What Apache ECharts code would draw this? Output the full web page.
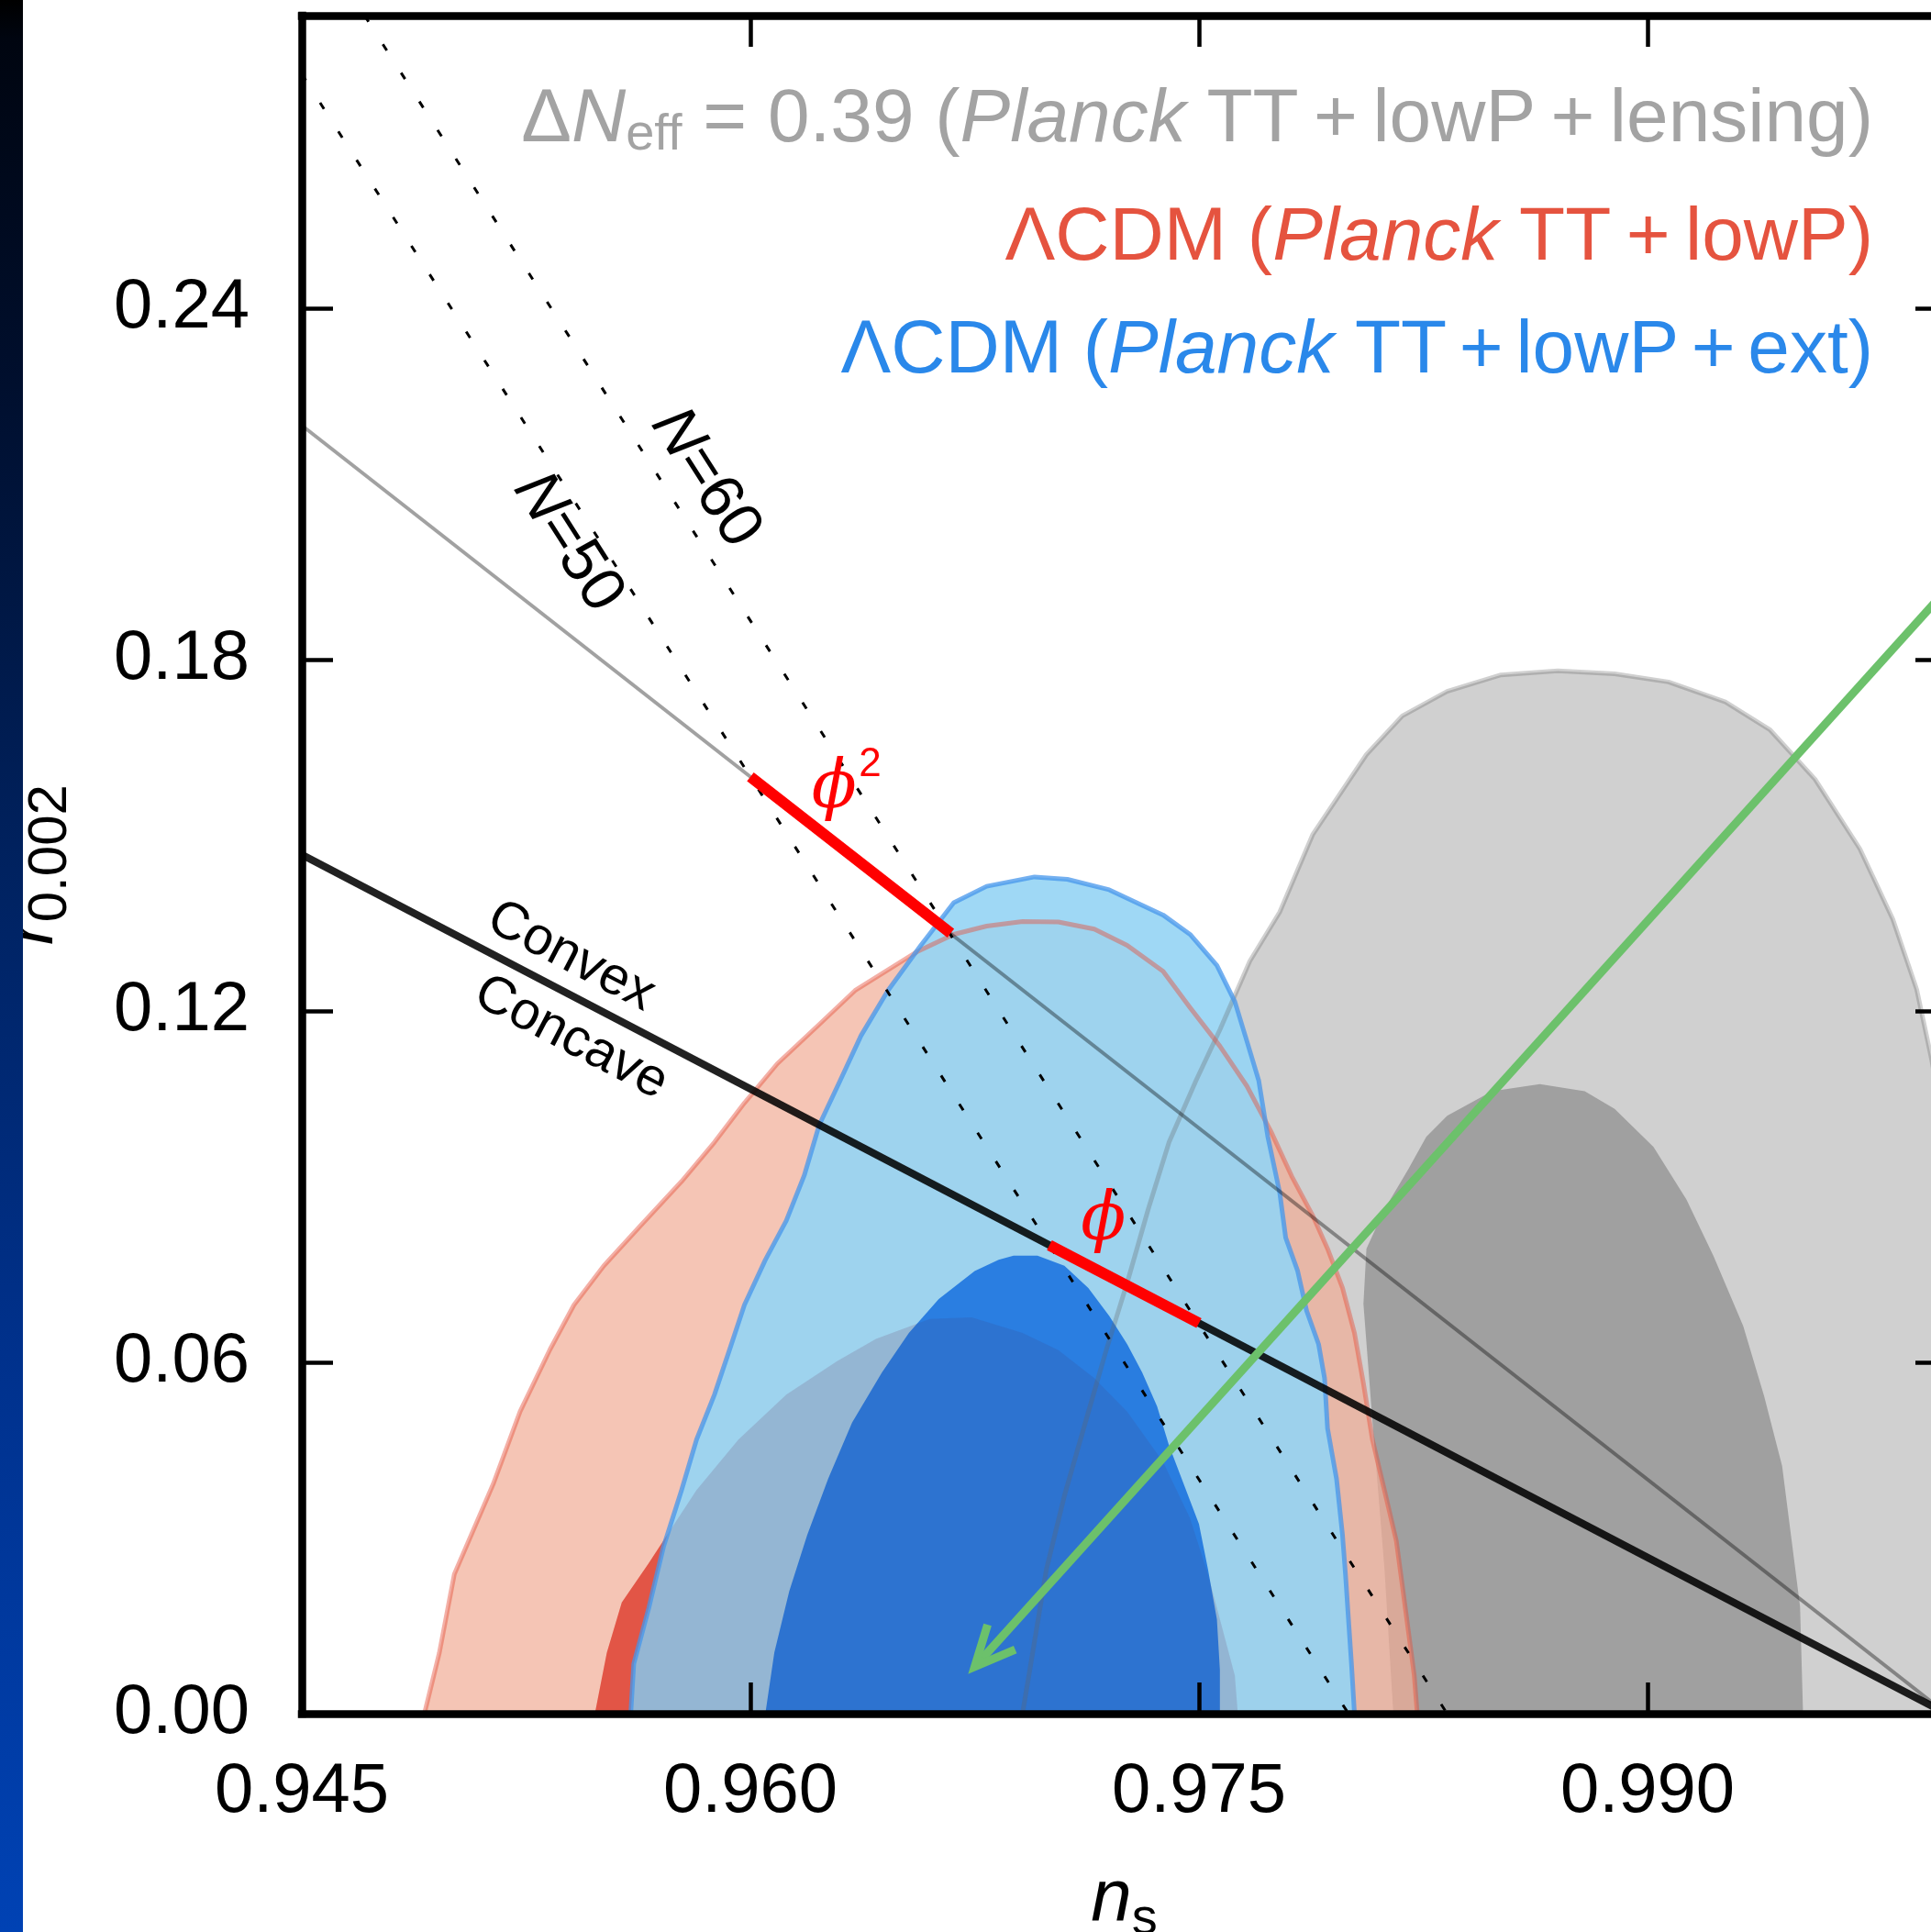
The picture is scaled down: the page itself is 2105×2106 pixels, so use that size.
<!DOCTYPE html>
<html><head><meta charset="utf-8">
<script src="https://cdn.jsdelivr.net/npm/echarts@6/dist/echarts.min.js"></script>
<style>html,body{margin:0;padding:0;background:#fff;} #c{width:2105px;height:2106px;}</style>
</head><body><div id="c"></div>
<script>
// ---------------- data ----------------
const xTicks = [0.945, 0.960, 0.975, 0.990];
const yTicks = [0.00, 0.06, 0.12, 0.18, 0.24];

// Delta N_eff = 0.39 (Planck TT+lowP+lensing) contours  [n_s, r]
const grayOuter = [[0.9691,0],[0.9695,0.0123],[0.9699,0.0247],[0.9705,0.0372],[0.9712,0.0497],[0.9719,0.0621],[0.9726,0.0736],[0.9733,0.0861],[0.9740,0.0976],[0.9749,0.1081],[0.9757,0.1168],[0.9767,0.1285],[0.9777,0.1369],[0.9788,0.1501],[0.9806,0.1638],[0.9818,0.1704],[0.9833,0.1746],[0.9851,0.1774],[0.9870,0.1781],[0.9889,0.1776],[0.9907,0.1762],[0.9926,0.1728],[0.9941,0.1680],[0.9956,0.1596],[0.9971,0.1477],[0.9982,0.1357],[0.9990,0.1237],[0.9995,0.1117],[1.0001,0.0950],[1.0008,0.0600],[1.0012,0.0300],[1.0013,0]];
const grayInner = [[0.9815,0],[0.9812,0.0250],[0.9808,0.0500],[0.9805,0.0700],[0.9806,0.0794],[0.9812,0.0861],[0.9820,0.0930],[0.9826,0.0985],[0.9833,0.1021],[0.9848,0.1063],[0.9864,0.1075],[0.9879,0.1063],[0.9889,0.1033],[0.9902,0.0968],[0.9913,0.0878],[0.9922,0.0782],[0.9932,0.0662],[0.9939,0.0542],[0.9945,0.0423],[0.9948,0.0303],[0.9951,0.0183],[0.9952,0]];
// LCDM Planck TT+lowP
const redOuter = [[0.9491,0],[0.9496,0.0104],[0.9501,0.0238],[0.9514,0.0392],[0.9523,0.0516],[0.9533,0.0622],[0.9541,0.0698],[0.9551,0.0765],[0.9563,0.0832],[0.9577,0.0909],[0.9588,0.0976],[0.9598,0.1043],[0.9609,0.1110],[0.9623,0.1177],[0.9635,0.1235],[0.9656,0.1302],[0.9668,0.1331],[0.9679,0.1345],[0.9691,0.1353],[0.9703,0.1352],[0.9715,0.1340],[0.9726,0.1312],[0.9738,0.1268],[0.9747,0.1206],[0.9757,0.1140],[0.9766,0.1072],[0.9774,0.0995],[0.9781,0.0918],[0.9788,0.0851],[0.9793,0.0794],[0.9798,0.0727],[0.9802,0.0650],[0.9805,0.0564],[0.9808,0.0468],[0.9812,0.0382],[0.9816,0.0295],[0.9818,0.0219],[0.9820,0.0142],[0.9822,0.0065],[0.9823,0]];
const redInner = [[0.9548,0],[0.9552,0.0104],[0.9557,0.0190],[0.9566,0.0257],[0.9571,0.0296],[0.9582,0.0382],[0.9596,0.0468],[0.9612,0.0545],[0.9629,0.0602],[0.9642,0.0640],[0.9660,0.0674],[0.9674,0.0677],[0.9679,0.0669],[0.9691,0.0650],[0.9703,0.0621],[0.9715,0.0573],[0.9726,0.0516],[0.9738,0.0430],[0.9747,0.0334],[0.9753,0.0238],[0.9758,0.0142],[0.9762,0.0065],[0.9763,0]];
// LCDM Planck TT+lowP+ext
const blueOuter = [[0.9560,0],[0.9561,0.0085],[0.9566,0.0180],[0.9571,0.0286],[0.9577,0.0382],[0.9582,0.0468],[0.9588,0.0545],[0.9593,0.0621],[0.9598,0.0698],[0.9605,0.0775],[0.9612,0.0842],[0.9618,0.0919],[0.9623,0.1005],[0.9630,0.1081],[0.9637,0.1158],[0.9646,0.1235],[0.9657,0.1312],[0.9668,0.1385],[0.9679,0.1413],[0.9695,0.1429],[0.9706,0.1425],[0.9720,0.1407],[0.9738,0.1364],[0.9747,0.1331],[0.9756,0.1278],[0.9762,0.1216],[0.9766,0.1149],[0.9770,0.1081],[0.9773,0.0986],[0.9777,0.0890],[0.9779,0.0813],[0.9783,0.0756],[0.9786,0.0688],[0.9790,0.0631],[0.9792,0.0573],[0.9793,0.0487],[0.9796,0.0401],[0.9798,0.0305],[0.9799,0.0238],[0.9800,0.0161],[0.9801,0.0085],[0.9802,0]];
const blueInner = [[0.9605,0],[0.9608,0.0104],[0.9613,0.0209],[0.9619,0.0305],[0.9626,0.0401],[0.9634,0.0497],[0.9644,0.0583],[0.9653,0.0650],[0.9663,0.0708],[0.9675,0.0756],[0.9683,0.0775],[0.9688,0.0782],[0.9696,0.0782],[0.9705,0.0765],[0.9713,0.0727],[0.9720,0.0679],[0.9726,0.0631],[0.9731,0.0583],[0.9736,0.0525],[0.9740,0.0458],[0.9745,0.0391],[0.9750,0.0324],[0.9753,0.0247],[0.9756,0.0161],[0.9757,0.0075],[0.9757,0]];

// model lines
const phi2Line = [[0.945, 0.2200], [1.000, 0.0000]];
const phi2Seg  = [[0.9600, 0.1600], [0.9667, 0.1333]];
const phiLine  = [[0.945, 0.1467], [1.000, 0.0000]];
const phiSeg   = [[0.9700, 0.0800], [0.9750, 0.0667]];
const n50Line  = [[0.945, 0.2800], [0.9800, 0.0000]];
const n60Line  = [[0.9471, 0.2900], [0.9833, 0.0000]];
const arrowLine = [[1.0000, 0.1920], [0.9675, 0.0080]];   // start, tip

// annotation anchors
const labelN50 = [0.9539, 0.2000];
const labelN60 = [0.9585, 0.2110];
const labelConvex = [0.9540, 0.1293];
const labelConcave = [0.9540, 0.1154];
const labelPhi2 = [0.9628, 0.1577];
const labelPhi2Sup = [0.9640, 0.1620];
const labelPhi = [0.9718, 0.0839];

// ---------------- chart ----------------
const chart = echarts.init(document.getElementById('c'), null, {renderer: 'canvas', width: 2105, height: 2106});
const FONT = 'Liberation Sans';

function polySeries(pts, fill, z) {
  return { type: 'custom', z, silent: true, clip: true, data: [pts[0]],
    renderItem: (p, api) => ({ type: 'polygon', shape: { points: pts.map(q => api.coord(q)) },
      style: { fill: fill, stroke: null } }) };
}
function outlineSeries(pts, stroke, width, z) {
  return { type: 'custom', z, silent: true, clip: true, data: [pts[0]],
    renderItem: (p, api) => ({ type: 'polyline', shape: { points: pts.map(q => api.coord(q)) },
      style: { fill: null, stroke: stroke, lineWidth: width, lineJoin: 'round' } }) };
}
function lineSeries(pts, color, width, type, z) {
  return { type: 'line', data: pts, symbol: 'none', silent: true, z, clip: true,
    lineStyle: { color, width, type: type || 'solid', cap: 'butt' } };
}
function angleOf(api, line) {
  const a = api.coord(line[0]), b = api.coord(line[1]);
  return -Math.atan2(b[1] - a[1], b[0] - a[0]);
}

const textSeries = {
  type: 'custom', z: 30, silent: true, clip: false, data: [labelN50],
  renderItem: (p, api) => {
    const t = (pos, text, rot, style) => {
      const c = api.coord(pos);
      return { type: 'text', x: c[0], y: c[1], rotation: rot,
        style: Object.assign({ text, align: 'center', verticalAlign: 'middle' }, style) };
    };
    const angPhi = angleOf(api, phiLine);
    const richN = { i: { fontStyle: 'italic', fontSize: 68, fontFamily: FONT, fill: '#000' },
                    a: { fontSize: 68, fontFamily: FONT, fill: '#000' } };
    return { type: 'group', children: [
      t(labelN50, '{i|N}{a|=50}', angleOf(api, n50Line), { rich: richN }),
      t(labelN60, '{i|N}{a|=60}', angleOf(api, n60Line), { rich: richN }),
      t(labelConvex, 'Convex', angPhi, { fontSize: 58, fontFamily: FONT, fill: '#000' }),
      t(labelConcave, 'Concave', angPhi, { fontSize: 58, fontFamily: FONT, fill: '#000' }),
      t(labelPhi2, '\u03D5', 0, { fontSize: 72, fontFamily: 'DejaVu Serif', fontStyle: 'italic', fill: '#ff0000' }),
      t(labelPhi2Sup, '2', 0, { fontSize: 44, fontFamily: FONT, fill: '#ff0000' }),
      t(labelPhi, '\u03D5', 0, { fontSize: 72, fontFamily: 'DejaVu Serif', fontStyle: 'italic', fill: '#ff0000' })
    ]};
  }
};

const arrowSeries = {
  type: 'custom', z: 25, silent: true, clip: true, data: [arrowLine[1]],
  renderItem: (p, api) => {
    const s = api.coord(arrowLine[0]), e = api.coord(arrowLine[1]);
    const ang = Math.atan2(s[1] - e[1], s[0] - e[0]);
    const L = 48, h = 25 * Math.PI / 180;
    const a1 = [e[0] + L * Math.cos(ang + h), e[1] + L * Math.sin(ang + h)];
    const a2 = [e[0] + L * Math.cos(ang - h), e[1] + L * Math.sin(ang - h)];
    const st = { fill: null, stroke: '#6cc16b', lineWidth: 9, lineCap: 'butt', lineJoin: 'miter' };
    return { type: 'group', children: [
      { type: 'polyline', shape: { points: [s, e] }, style: st },
      { type: 'polyline', shape: { points: [a1, e, a2] }, style: st }
    ]};
  }
};

const axisCommon = {
  type: 'value', z: 50,
  axisLine: { show: true, onZero: false, lineStyle: { color: '#000', width: 8.5, cap: 'square' } },
  axisTick: { show: true, inside: true, length: 34, lineStyle: { color: '#000', width: 4.5 } },
  splitLine: { show: false }
};

const option = {
  animation: false,
  backgroundColor: '#fff',
  grid: { left: 329, top: 17, width: 1793, height: 1851, containLabel: false, outerBoundsMode: 'none' },
  xAxis: [
    Object.assign({}, axisCommon, { position: 'bottom', min: 0.945, max: 1.0, interval: 0.015,
      axisTick: Object.assign({}, axisCommon.axisTick, { customValues: xTicks }),
      axisLabel: { customValues: xTicks, formatter: v => v.toFixed(3), fontSize: 76, fontFamily: FONT, color: '#000', margin: 48 },
      name: '{i|n}{s|s}', nameLocation: 'middle', nameGap: 155,
      nameTextStyle: { rich: { i: { fontStyle: 'italic', fontSize: 80, fontFamily: FONT, color: '#000', lineHeight: 98, verticalAlign: 'middle' },
                               s: { fontSize: 56, fontFamily: FONT, color: '#000', lineHeight: 56, verticalAlign: 'bottom' } } } }),
    Object.assign({}, axisCommon, { position: 'top', min: 0.945, max: 1.0, interval: 0.015,
      axisTick: Object.assign({}, axisCommon.axisTick, { customValues: xTicks }),
      axisLabel: { show: false } })
  ],
  yAxis: [
    Object.assign({}, axisCommon, { position: 'left', min: 0, max: 0.29, interval: 0.06,
      axisTick: Object.assign({}, axisCommon.axisTick, { customValues: yTicks }),
      axisLabel: { customValues: yTicks, formatter: v => v.toFixed(2), fontSize: 76, fontFamily: FONT, color: '#000', margin: 57 },
      name: '{i|r}{s|0.002}', nameLocation: 'middle', nameRotate: 90, nameGap: 244,
      nameTextStyle: { rich: { i: { fontStyle: 'italic', fontSize: 74, fontFamily: FONT, color: '#000', lineHeight: 98, verticalAlign: 'middle' },
                               s: { fontSize: 60, fontFamily: FONT, color: '#000', lineHeight: 60, verticalAlign: 'bottom' } } } }),
    Object.assign({}, axisCommon, { position: 'right', min: 0, max: 0.29, interval: 0.06,
      axisTick: Object.assign({}, axisCommon.axisTick, { customValues: yTicks }),
      axisLabel: { show: false } })
  ],
  series: [
    polySeries(grayOuter, '#d0d0d0', 1),
    polySeries(grayInner, '#a0a0a0', 2),
    polySeries(redOuter, 'rgba(241,172,149,0.7)', 3),
    polySeries(redInner, 'rgba(246,82,57,0.94)', 4),
    polySeries(blueOuter, 'rgba(149,212,244,0.9)', 5),
    polySeries(blueInner, 'rgba(21,110,222,0.85)', 6),
    polySeries(redInner, 'rgba(70,55,110,0.12)', 6.5),
    outlineSeries(grayOuter, 'rgba(100,100,100,0.3)', 5, 7),
    outlineSeries(redOuter, 'rgba(228,80,60,0.45)', 5, 7),
    outlineSeries(blueOuter, 'rgba(70,150,235,0.75)', 5, 7),
    lineSeries(n50Line, '#000', 3, [8, 29], 10),
    lineSeries(n60Line, '#000', 3, [8, 29], 10),
    lineSeries(phi2Line, 'rgba(0,0,0,0.37)', 4, 'solid', 11),
    lineSeries(phiLine, 'rgba(0,0,0,0.87)', 8, 'solid', 12),
    lineSeries(phi2Seg, '#ff0000', 12, 'solid', 13),
    lineSeries(phiSeg, '#ff0000', 12, 'solid', 13),
    arrowSeries,
    textSeries
  ],
  graphic: [
    { type: 'rect', x: 0, y: 0, z: 100, shape: { width: 25, height: 2106 }, silent: true,
      style: { fill: { type: 'linear', x: 0, y: 0, x2: 0, y2: 1, colorStops: [
        { offset: 0, color: '#000000' }, { offset: 0.02, color: '#000510' }, { offset: 0.2, color: '#000f2e' },
        { offset: 0.45, color: '#002260' }, { offset: 0.7, color: '#00318c' }, { offset: 1, color: '#0042b4' } ] } } },
    { type: 'text', x: 2042, y: 131, z: 100, silent: true,
      style: { text: '{a|\u0394}{n|N}{s|eff}{a| = 0.39 (}{n|Planck}{a| TT\u2009+\u2009lowP\u2009+\u2009lensing)}',
        align: 'right', verticalAlign: 'middle',
        rich: { a: { fontSize: 82, fontFamily: FONT, fill: '#a3a3a3', lineHeight: 90, verticalAlign: 'middle' },
                n: { fontSize: 82, fontFamily: FONT, fontStyle: 'italic', fill: '#a3a3a3', lineHeight: 90, verticalAlign: 'middle' },
                s: { fontSize: 56, fontFamily: FONT, fill: '#a3a3a3', lineHeight: 56, verticalAlign: 'bottom' } } } },
    { type: 'text', x: 2042, y: 260, z: 100, silent: true,
      style: { text: '{a|\u039BCDM (}{n|Planck}{a| TT\u2009+\u2009lowP)}', align: 'right', verticalAlign: 'middle',
        rich: { a: { fontSize: 82, fontFamily: FONT, fill: '#e5533f', lineHeight: 90 },
                n: { fontSize: 82, fontFamily: FONT, fontStyle: 'italic', fill: '#e5533f', lineHeight: 90 } } } },
    { type: 'text', x: 2042, y: 383, z: 100, silent: true,
      style: { text: '{a|\u039BCDM (}{n|Planck}{a| TT\u2006+\u2006lowP\u2006+\u2006ext)}', align: 'right', verticalAlign: 'middle',
        rich: { a: { fontSize: 82, fontFamily: FONT, fill: '#2a88ea', lineHeight: 90 },
                n: { fontSize: 82, fontFamily: FONT, fontStyle: 'italic', fill: '#2a88ea', lineHeight: 90 } } } }
  ]
};
chart.setOption(option);
</script>
</body></html>
